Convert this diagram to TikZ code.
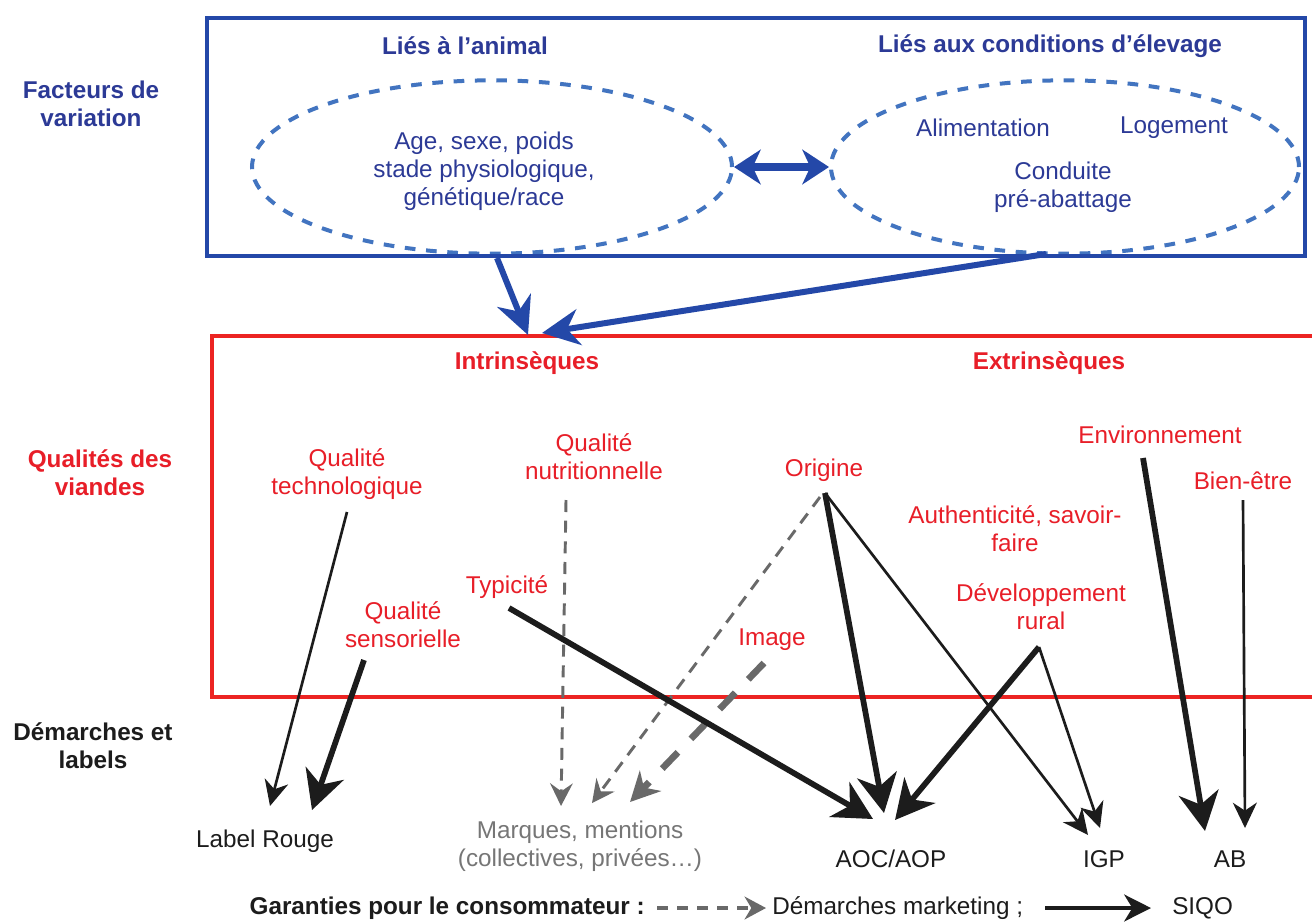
\documentclass[tikz,border=0pt]{standalone}
\usepackage{fontspec}
\setmainfont{Liberation Sans}
\usetikzlibrary{arrows.meta,shapes.geometric}
\definecolor{bblue}{RGB}{36,72,168}
\definecolor{tblue}{RGB}{44,58,150}
\definecolor{dblue}{RGB}{66,116,192}
\definecolor{rred}{RGB}{236,36,34}
\definecolor{tred}{RGB}{232,30,40}
\definecolor{ggray}{RGB}{105,105,105}
\definecolor{tgray}{RGB}{118,118,118}
\definecolor{tblack}{RGB}{28,28,28}
\tikzset{
  lbl/.style={font=\fontsize{18.2pt}{21pt}\selectfont, inner sep=0pt, align=center},
  blbl/.style={lbl, font=\fontsize{18.2pt}{21pt}\selectfont\bfseries},
  ell/.style={ellipse, draw=dblue, line width=3pt, dash pattern=on 8pt off 8pt, inner sep=0pt},
  boxb/.style={draw=bblue, line width=3pt},
  boxr/.style={draw=rred, line width=3pt},
  bluearr/.style={draw=bblue, line width=4.5pt, -{Stealth[length=28pt,width=27pt,inset=9pt]}},
  dblarr/.style={draw=bblue, line width=6pt, {Stealth[length=20pt,width=26pt,inset=6pt]}-{Stealth[length=20pt,width=26pt,inset=6pt]}},
  thinarr/.style={draw=tblack, line width=2pt, -{Stealth[length=19pt,width=18pt,inset=6pt]}},
  thickarr/.style={draw=tblack, line width=4.3pt, -{Stealth[length=29pt,width=30pt,inset=9pt]}},
  grayarr/.style={draw=ggray, line width=2.2pt, dash pattern=on 9pt off 6.5pt, -{Stealth[length=17pt,width=17pt,inset=6pt]}},
  grayfat/.style={draw=ggray, line width=5pt, dash pattern=on 17pt off 14pt, -{Stealth[length=22pt,width=22pt,inset=7pt]}},
}
\begin{document}
\begin{tikzpicture}[x=0.75pt,y=-0.75pt]
\useasboundingbox (0,0) rectangle (1312,921);
\clip (0,0) rectangle (1312,921);
\fill[white] (0,0) rectangle (1312,921);

% ---------- top block : facteurs de variation
\node[ell, minimum width=360pt, minimum height=130pt] (ellA) at (492,167) {};
\node[ell, minimum width=351pt, minimum height=130pt] (ellC) at (1065,167) {};
\draw[boxb] (207,18) rectangle (1305,256);
\draw[dblarr] (ellA.east) -- (ellC.west);

\node[blbl, text=tblue] (fact) at (91,104) {Facteurs de\\variation};
\node[blbl, text=tblue] (liesA) at (465,46) {Liés à l’animal};
\node[blbl, text=tblue] (liesC) at (1050,46) {Liés aux conditions d’élevage};
\node[lbl, text=tblue] (age) at (484,171) {Age, sexe, poids\\stade physiologique,\\génétique/race};
\node[lbl, text=tblue] (alim) at (983,128) {Alimentation};
\node[lbl, text=tblue] (loge) at (1174,128) {Logement};
\node[lbl, text=tblue] (cond) at (1063,187) {Conduite\\pré-abattage};

% ---------- middle block : qualités
\draw[boxr] (212,336) rectangle (1340,697);
\node[blbl, text=tred] (qual) at (100,473) {Qualités des\\viandes};
\node[blbl, text=tred] (intr) at (527,363) {Intrinsèques};
\node[blbl, text=tred] (extr) at (1049,363) {Extrinsèques};
\node[lbl, text=tred] (techno) at (347,474) {Qualité\\technologique};
\node[lbl, text=tred] (nutri) at (594,457) {Qualité\\nutritionnelle};
\node[lbl, text=tred] (origine) at (824,470) {Origine};
\node[lbl, text=tred] (env) at (1160,435) {Environnement};
\node[lbl, text=tred] (bien) at (1243,481) {Bien-être};
\node[lbl, text=tred] (auth) at (1015,529) {Authenticité, savoir-\\faire};
\node[lbl, text=tred] (dev) at (1041,607) {Développement\\rural};
\node[lbl, text=tred] (image) at (772,640) {Image};
\node[lbl, text=tred] (typ) at (507,587) {Typicité};
\node[lbl, text=tred] (sens) at (403,625) {Qualité\\sensorielle};

% ---------- bottom block : démarches
\node[blbl, text=tblack] (dem) at (93,746) {Démarches et\\labels};
\node[lbl, text=tblack] (lr) at (265,841) {Label Rouge};
\node[lbl, text=tgray] (marq) at (580,846) {Marques, mentions\\(collectives, privées…)};
\node[lbl, text=tblack] (aoc) at (891,859) {AOC/AOP};
\node[lbl, text=tblack] (igp) at (1104,859) {IGP};
\node[lbl, text=tblack] (ab) at (1230,859) {AB};

% ---------- anchor points of connectors
\coordinate (fA) at (497,258);
\coordinate (fC) at (1046,254);
\coordinate (qI1) at (528,335);
\coordinate (qI2) at (542,333);
\coordinate (technoS) at (347,512);
\coordinate (sensS) at (364,660);
\coordinate (nutriS) at (566,500);
\coordinate (origS) at (825,493);
\coordinate (origG) at (820,497);
\coordinate (imageS) at (764,663);
\coordinate (typS) at (509,608);
\coordinate (devS) at (1039,647);
\coordinate (envS) at (1143,458);
\coordinate (bienS) at (1243,500);
\coordinate (lr1) at (270,806);
\coordinate (lr2) at (312,810);
\coordinate (mq1) at (561,806);
\coordinate (mq2) at (592,803);
\coordinate (mq3) at (630,802);
\coordinate (aoc1) at (873,819);
\coordinate (aoc2) at (884,813);
\coordinate (aoc3) at (895,820);
\coordinate (igp1) at (1088,835);
\coordinate (igp2) at (1100,828);
\coordinate (ab1) at (1205,831);
\coordinate (ab2) at (1245,828);

% ---------- connectors
\draw[bluearr] (fA) -- (qI1);
\draw[bluearr] (fC) -- (qI2);

\draw[grayarr] (nutriS) -- (mq1);
\draw[grayarr] (origG) -- (mq2);
\draw[grayfat] (imageS) -- (mq3);

\draw[thinarr] (technoS) -- (lr1);
\draw[thickarr] (sensS) -- (lr2);
\draw[thickarr] (typS) -- (aoc1);
\draw[thickarr] (origS) -- (aoc2);
\draw[thickarr] (devS) -- (aoc3);
\draw[thinarr] (origS) -- (igp1);
\draw[thinarr] (devS) -- (igp2);
\draw[thickarr] (envS) -- (ab1);
\draw[thinarr] (bienS) -- (ab2);

% ---------- legend
\node[blbl, text=tblack, anchor=east] (gar) at (645,908) {Garanties pour le consommateur :};
\node[lbl, text=tblack, anchor=west] (dmk) at (772,908) {Démarches marketing ;};
\node[lbl, text=tblack, anchor=west] (siqo) at (1172,908) {SIQO};
\coordinate (lgA) at (657,908);
\coordinate (lgB) at (766,908);
\coordinate (lgC) at (1045,908);
\coordinate (lgD) at (1151,908);
\draw[draw=ggray, line width=3pt, dash pattern=on 8pt off 7pt, -{Stealth[length=16pt,width=17pt,inset=5pt]}] (lgA) -- (lgB);
\draw[draw=tblack, line width=3.6pt, -{Stealth[length=20pt,width=20pt,inset=6pt]}] (lgC) -- (lgD);
\end{tikzpicture}
\end{document}
